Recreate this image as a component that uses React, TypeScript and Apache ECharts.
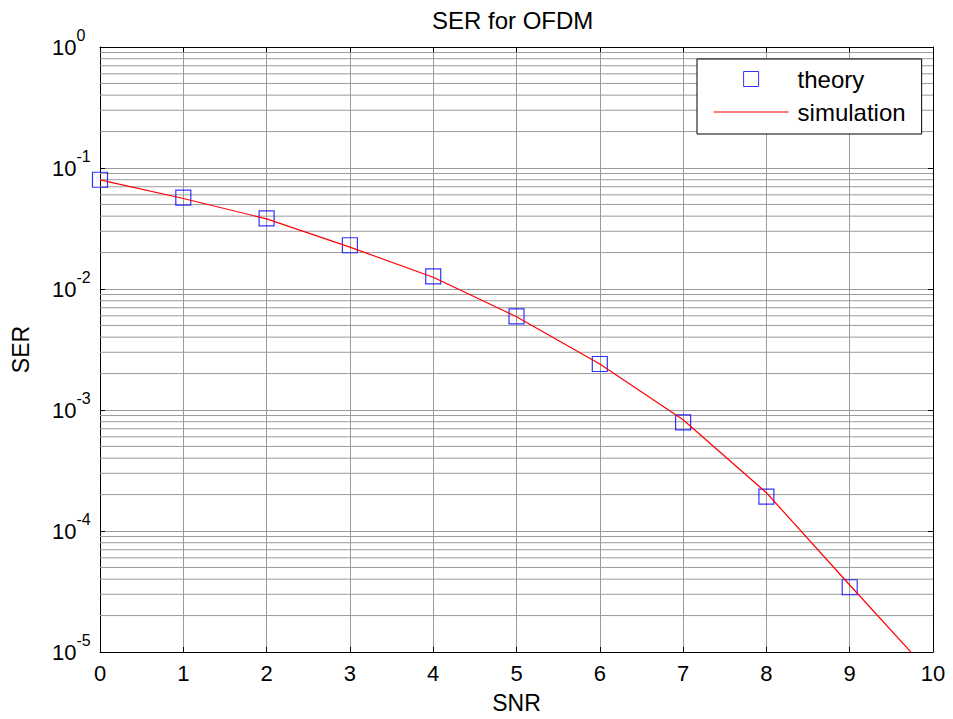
import React, { useEffect, useRef } from "react";
import * as echarts from "echarts";

const snr = [0, 1, 2, 3, 4, 5, 6, 7, 8, 9, 10];
const theoryY = [0.080, 0.057, 0.0383, 0.0230, 0.0127, 0.00594, 0.0024, 0.00079, 0.000192, 0.0000343];
const simulationY = [0.0797, 0.0560, 0.0380, 0.0222, 0.0125, 0.0059, 0.0024, 0.00083, 0.000207, 0.0000358, 0.0000063];
const minorGridValues = [
  2e-5, 3e-5, 4e-5, 5e-5, 6e-5, 7e-5, 8e-5, 9e-5,
  2e-4, 3e-4, 4e-4, 5e-4, 6e-4, 7e-4, 8e-4, 9e-4,
  2e-3, 3e-3, 4e-3, 5e-3, 6e-3, 7e-3, 8e-3, 9e-3,
  2e-2, 3e-2, 4e-2, 5e-2, 6e-2, 7e-2, 8e-2, 9e-2,
  0.2, 0.3, 0.4, 0.5, 0.6, 0.7, 0.8, 0.9,
];
const xRange = [0, 10];

const FONT = "'Liberation Sans', Arial, Helvetica, sans-serif";
const GRID_COLOR = "#9a9a9a";

export default function App() {
  const ref = useRef<HTMLDivElement>(null);
  useEffect(() => {
    if (!ref.current) return;
    const chart = echarts.init(ref.current, null, { renderer: "svg" });
    const tickStyle = { show: true, inside: true, length: 5, lineStyle: { color: "#000", width: 1 } };
    const minorGridData: any[] = [];
    minorGridValues.forEach((v) => {
      minorGridData.push([xRange[0], v]);
      minorGridData.push([xRange[1], v]);
      minorGridData.push(["-", "-"]);
    });
    chart.setOption({
      animation: false,
      backgroundColor: "#fff",
      textStyle: { fontFamily: FONT },
      title: {
        text: "SER for OFDM",
        left: 432,
        top: 8,
        padding: 0,
        textStyle: { fontFamily: FONT, fontSize: 24, fontWeight: "normal", color: "#000" },
      },
      legend: {
        left: 697,
        top: 59,
        orient: "vertical",
        backgroundColor: "#fff",
        borderColor: "#000",
        borderWidth: 1,
        padding: [8, 16, 10, 16],
        itemGap: 9,
        itemWidth: 75,
        itemHeight: 15,
        textStyle: { fontFamily: FONT, fontSize: 24, color: "#000", padding: [0, 0, 0, 4] },
        data: [
          {
            name: "theory",
            icon: "path://M0 0H10V10H0Z",
            itemStyle: { color: "rgba(0,0,0,0)", borderColor: "#0000ff", borderWidth: 1 },
          },
          {
            name: "simulation",
            itemStyle: { opacity: 0, color: "rgba(0,0,0,0)", borderWidth: 0 },
            lineStyle: { color: "#ff0000", width: 1.2 },
          },
        ],
      },
      grid: { left: 100, right: 20, top: 47, bottom: 65, containLabel: false },
      xAxis: [
        {
          type: "value",
          min: 0,
          max: 10,
          interval: 1,
          position: "bottom",
          name: "SNR",
          nameLocation: "middle",
          nameGap: 39,
          nameTextStyle: { fontFamily: FONT, fontSize: 23, color: "#000" },
          axisLine: { show: true, onZero: false, lineStyle: { color: "#000", width: 1 } },
          axisTick: tickStyle,
          axisLabel: { fontFamily: FONT, fontSize: 22, color: "#000", margin: 10 },
          splitLine: { show: true, lineStyle: { color: GRID_COLOR, width: 1 } },
        },
        {
          type: "value",
          min: 0,
          max: 10,
          interval: 1,
          position: "top",
          axisLine: { show: true, onZero: false, lineStyle: { color: "#000", width: 1 } },
          axisTick: tickStyle,
          axisLabel: { show: false },
          splitLine: { show: false },
        },
      ],
      yAxis: [
        {
          type: "log",
          logBase: 10,
          min: 1e-5,
          max: 1,
          position: "left",
          name: "SER",
          nameLocation: "middle",
          nameGap: 68,
          nameTextStyle: { fontFamily: FONT, fontSize: 23, color: "#000" },
          axisLine: { show: true, onZero: false, lineStyle: { color: "#000", width: 1 } },
          axisTick: tickStyle,
          axisLabel: {
            align: "left",
            verticalAlign: "middle",
            margin: 48,
            formatter: (v: number) => `{b|10}{s|${Math.round(Math.log10(v))}}`,
            rich: {
              b: { fontFamily: FONT, fontSize: 22, lineHeight: 48, color: "#000", verticalAlign: "middle" },
              s: {
                fontFamily: FONT,
                fontSize: 16,
                lineHeight: 16,
                color: "#000",
                verticalAlign: "top",
                padding: [4, 0, 0, 0],
              },
            },
          },
          splitLine: { show: true, lineStyle: { color: GRID_COLOR, width: 1 } },
        },
        {
          type: "log",
          logBase: 10,
          min: 1e-5,
          max: 1,
          position: "right",
          axisLine: { show: true, onZero: false, lineStyle: { color: "#000", width: 1 } },
          axisTick: tickStyle,
          axisLabel: { show: false },
          splitLine: { show: false },
        },
      ],
      series: [
        {
          name: "minor-grid",
          type: "line",
          xAxisIndex: 0,
          yAxisIndex: 0,
          symbol: "none",
          silent: true,
          connectNulls: false,
          z: 1,
          lineStyle: { color: GRID_COLOR, width: 1 },
          data: minorGridData,
        },
        {
          name: "theory",
          type: "scatter",
          xAxisIndex: 0,
          yAxisIndex: 0,
          symbol: "rect",
          symbolSize: 15,
          z: 3,
          itemStyle: { color: "rgba(0,0,0,0)", borderColor: "#0000ff", borderWidth: 1.2 },
          data: theoryY.map((y, i) => [snr[i], y]),
        },
        {
          name: "simulation",
          type: "line",
          xAxisIndex: 0,
          yAxisIndex: 0,
          symbol: "none",
          clip: true,
          z: 4,
          lineStyle: { color: "#ff0000", width: 1.2 },
          itemStyle: { color: "#ff0000" },
          data: simulationY.map((y, i) => [snr[i], y]),
        },
      ],
    });
    return () => chart.dispose();
  }, []);
  return (
    <div
      ref={ref}
      style={{ position: "absolute", left: 0, top: 0, width: 953, height: 719, background: "#fff" }}
    />
  );
}
